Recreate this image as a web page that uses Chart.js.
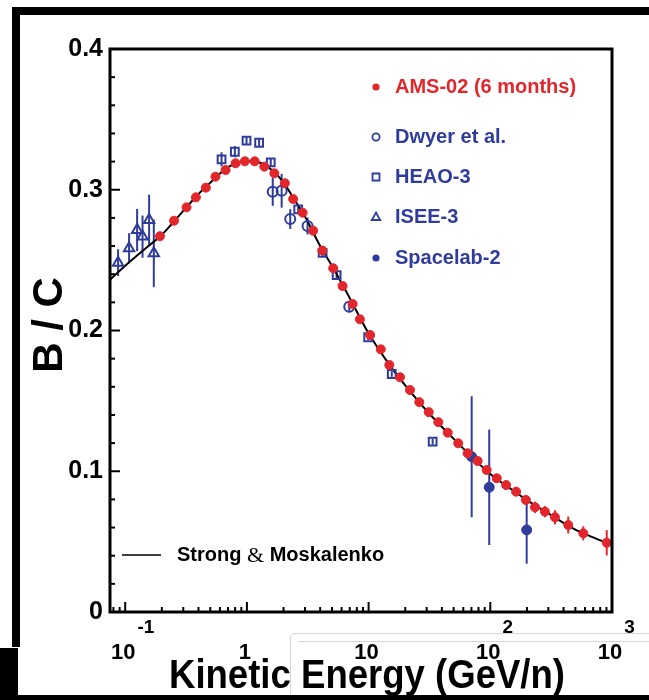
<!DOCTYPE html>
<html lang="en">
<head>
<meta charset="UTF-8">
<title>B/C ratio vs kinetic energy</title>
<script src="https://cdn.jsdelivr.net/npm/chart.js@4.4.0/dist/chart.umd.min.js"></script>
<style>
  body { margin: 0; background: #fff; }
  #chart { display: block; }
</style>
</head>
<body>
<canvas id="chart" width="649" height="700"></canvas>
<script>
// AMS-02 (6 months)
const amsEnergy = [0.193, 0.252, 0.319, 0.381, 0.46, 0.552, 0.668, 0.807, 0.962, 1.16,
  1.39, 1.68, 2.05, 2.40, 2.87, 3.50, 4.17, 5.12, 6.11, 7.39,
  8.48, 10.3, 12.6, 14.8, 18.1, 21.9, 26.1, 31.2, 37.4, 44.7,
  54.5, 65.1, 78.7, 93.3, 113, 135, 163, 196, 233, 281,
  340, 437, 581, 905];
const amsRatio = [0.267, 0.278, 0.2875, 0.2946, 0.3015, 0.3093, 0.314, 0.3188, 0.3202, 0.3202,
  0.3164, 0.3117, 0.3046, 0.2934, 0.2837, 0.2709, 0.2568, 0.2442, 0.2316, 0.2188,
  0.208, 0.1968, 0.1866, 0.1755, 0.1668, 0.1577, 0.1491, 0.142, 0.1349, 0.1274,
  0.1199, 0.1128, 0.1073, 0.1009, 0.095, 0.0902, 0.0855, 0.0796, 0.0744, 0.0713,
  0.0673, 0.0618, 0.0559, 0.0492];
const amsError = [0.001, 0.001, 0.001, 0.001, 0.001, 0.001, 0.001, 0.001, 0.001, 0.001,
  0.001, 0.001, 0.001, 0.001, 0.001, 0.001, 0.001, 0.001, 0.001, 0.001,
  0.001, 0.001, 0.001, 0.001, 0.001, 0.001, 0.001, 0.001, 0.001, 0.001,
  0.001, 0.002, 0.002, 0.002, 0.002, 0.002, 0.003, 0.003, 0.004, 0.004,
  0.005, 0.006, 0.005, 0.009];

// Dwyer et al.
const dwyerEnergy = [1.63, 1.93, 2.27, 3.15, 6.93];
const dwyerRatio = [0.2986, 0.2993, 0.2792, 0.2742, 0.2169];
const dwyerError = [0.010, 0.012, 0.007, 0.006, 0.004];

// HEAO-3
const heaoEnergy = [0.619, 0.796, 0.993, 1.26, 1.57, 2.64, 4.19, 5.46, 9.92, 15.5, 33.6];
const heaoRatio = [0.3216, 0.327, 0.3349, 0.3334, 0.3195, 0.2861, 0.2551, 0.2394, 0.1952, 0.1691, 0.121];
const heaoError = [0.005, 0.004, 0.003, 0.003, 0.003, 0.003, 0.003, 0.003, 0.002, 0.002, 0.002];

// ISEE-3
const iseeEnergy = [0.0874, 0.1076, 0.1253, 0.1388, 0.1572, 0.1718];
const iseeRatio = [0.2482, 0.2584, 0.2714, 0.2667, 0.2785, 0.2548];
const iseeError = [0.0095, 0.0107, 0.015, 0.015, 0.018, 0.024];

// Spacelab-2
const spacelabEnergy = [70.3, 98.0, 199];
const spacelabRatio = [0.1103, 0.0886, 0.0583];
const spacelabError = [0.043, 0.041, 0.024];

// Strong & Moskalenko model curve
const modelEnergy = [0.075, 0.1, 0.15, 0.2, 0.3, 0.4, 0.5, 0.7, 1.0, 1.3, 1.7, 2.0, 2.5, 3, 4, 5, 7, 10,
  15, 20, 30, 50, 70, 100, 150, 200, 300, 500, 700, 1000];
const modelRatio = [0.236, 0.246, 0.259, 0.268, 0.285, 0.297, 0.305, 0.316, 0.3205, 0.319, 0.312, 0.305,
  0.292, 0.281, 0.26, 0.246, 0.223, 0.198, 0.175, 0.161, 0.143, 0.123, 0.1105, 0.098, 0.087, 0.0795,
  0.07, 0.0585, 0.053, 0.0475];

const yTicks = [0, 0.1, 0.2, 0.3, 0.4];
const yTickLabels = ['0', '0.1', '0.2', '0.3', '0.4'];
const xTicks = [0.1, 1, 10, 100, 1000];
const xTickBase = ['10', '1', '10', '10', '10'];
const xTickExp = ['-1', '', '', '2', '3'];

const red = '#e2262c';
const blue = '#2f3c9c';
const bold = (px) => 'bold ' + px + 'px "Liberation Sans", Arial, sans-serif';

function pts(xs, ys) {
  return xs.map((x, i) => ({ x: x, y: ys[i] }));
}

const plotDecor = {
  id: 'plotDecor',
  beforeDraw(chart) {
    const c = chart.ctx;
    c.save();
    c.fillStyle = '#fff';
    c.fillRect(0, 0, chart.width, chart.height);
    // dark border of the scanned figure
    c.fillStyle = '#000';
    c.fillRect(12, 7, chart.width - 12, 8);
    c.fillRect(12, 7, 8, 640);
    c.fillRect(0, 648, 18, 52);
    c.fillRect(0, 695, chart.width, 5);
    // faint overlay box at the lower right
    c.strokeStyle = '#d6d6d6';
    c.lineWidth = 1;
    c.beginPath();
    c.moveTo(290.5, 695);
    c.lineTo(290.5, 638);
    c.quadraticCurveTo(290.5, 633.5, 295, 633.5);
    c.lineTo(chart.width, 633.5);
    c.moveTo(298, 641.5);
    c.lineTo(chart.width, 641.5);
    c.stroke();
    c.restore();
  },
  beforeDatasetsDraw(chart) {
    const c = chart.ctx, xs = chart.scales.x, ys = chart.scales.y;
    c.save();
    c.lineWidth = 2;
    chart.data.datasets.forEach(ds => {
      if (!ds.errors) return;
      c.strokeStyle = ds.borderColor;
      ds.data.forEach((p, i) => {
        const px = xs.getPixelForValue(p.x);
        c.beginPath();
        c.moveTo(px, ys.getPixelForValue(p.y - ds.errors[i]));
        c.lineTo(px, ys.getPixelForValue(p.y + ds.errors[i]));
        c.stroke();
      });
    });
    c.restore();
  },
  afterDraw(chart) {
    const c = chart.ctx, xs = chart.scales.x, ys = chart.scales.y;
    const a = chart.chartArea;
    c.save();
    // plot frame
    c.strokeStyle = '#000';
    c.lineWidth = 3;
    c.strokeRect(a.left, a.top, a.right - a.left, a.bottom - a.top);

    // y ticks (inward), minor every 0.02
    c.lineWidth = 2;
    for (let k = 0; k <= 20; k++) {
      const py = ys.getPixelForValue(k * 0.02);
      const len = k % 5 === 0 ? 10 : 5;
      c.beginPath();
      c.moveTo(a.left, py);
      c.lineTo(a.left + len, py);
      c.stroke();
    }
    // x ticks (inward), log decades
    for (let d = -2; d <= 3; d++) {
      for (let m = 1; m <= 9; m++) {
        const v = m * Math.pow(10, d);
        if (v < xs.min || v > xs.max) continue;
        const px = xs.getPixelForValue(v);
        const len = m === 1 ? 10 : 5;
        c.beginPath();
        c.moveTo(px, a.bottom);
        c.lineTo(px, a.bottom - len);
        c.stroke();
      }
    }

    // y tick labels
    c.fillStyle = '#000';
    c.font = bold(25);
    c.textAlign = 'right';
    c.textBaseline = 'middle';
    yTicks.forEach((v, i) => c.fillText(yTickLabels[i], a.left - 7, ys.getPixelForValue(v)));

    // x tick labels with exponents
    xTicks.forEach((v, i) => {
      const px = xs.getPixelForValue(v);
      c.font = bold(22);
      c.textAlign = 'center';
      c.textBaseline = 'alphabetic';
      c.fillText(xTickBase[i], px - 2, 659);
      if (xTickExp[i]) {
        const w = c.measureText(xTickBase[i]).width;
        c.font = bold(19);
        c.textAlign = 'left';
        c.fillText(xTickExp[i], px - 2 + w / 2 + 2, 633);
      }
    });

    // axis titles
    c.font = bold(40);
    c.textAlign = 'center';
    c.textBaseline = 'alphabetic';
    const title = 'Kinetic Energy (GeV/n)';
    const tw = c.measureText(title).width;
    c.save();
    c.translate(367, 688);
    c.scale(396 / tw, 1);
    c.fillText(title, 0, 0);
    c.restore();

    c.save();
    c.translate(62, 325);
    c.rotate(-Math.PI / 2);
    c.font = bold(42);
    c.textAlign = 'center';
    c.textBaseline = 'alphabetic';
    c.fillText('B / C', 0, 0);
    c.restore();

    // legend
    const rows = [
      { label: 'AMS-02 (6 months)', color: red, y: 87, shape: 'dot' },
      { label: 'Dwyer et al.', color: blue, y: 137, shape: 'circle' },
      { label: 'HEAO-3', color: blue, y: 177, shape: 'square' },
      { label: 'ISEE-3', color: blue, y: 217, shape: 'triangle' },
      { label: 'Spacelab-2', color: blue, y: 258, shape: 'dot' }
    ];
    rows.forEach(r => {
      const mx = 376;
      c.fillStyle = r.color;
      c.strokeStyle = r.color;
      c.lineWidth = 1.8;
      c.beginPath();
      if (r.shape === 'dot') {
        c.arc(mx, r.y, 3.6, 0, Math.PI * 2);
        c.fill();
      } else if (r.shape === 'circle') {
        c.arc(mx, r.y, 3.6, 0, Math.PI * 2);
        c.stroke();
      } else if (r.shape === 'square') {
        c.rect(mx - 3.5, r.y - 3.5, 7, 7);
        c.stroke();
      } else {
        c.moveTo(mx, r.y - 4.5);
        c.lineTo(mx + 4.2, r.y + 3);
        c.lineTo(mx - 4.2, r.y + 3);
        c.closePath();
        c.stroke();
      }
      c.font = bold(20);
      c.textAlign = 'left';
      c.textBaseline = 'middle';
      c.fillText(r.label, 395, r.y);
    });

    // model legend
    c.strokeStyle = '#000';
    c.lineWidth = 1.5;
    c.beginPath();
    c.moveTo(122, 555);
    c.lineTo(161, 555);
    c.stroke();
    c.fillStyle = '#000';
    c.textAlign = 'left';
    c.textBaseline = 'middle';
    let tx = 177;
    c.font = bold(20);
    c.fillText('Strong ', tx, 555);
    tx += c.measureText('Strong ').width;
    c.font = '22px "Liberation Serif", "Times New Roman", serif';
    c.fillText('&', tx, 556);
    tx += c.measureText('&').width;
    c.font = bold(20);
    c.fillText(' Moskalenko', tx, 555);
    c.restore();
  }
};

new Chart(document.getElementById('chart'), {
  type: 'scatter',
  data: {
    datasets: [
      {
        label: 'AMS-02 (6 months)',
        data: pts(amsEnergy, amsRatio),
        errors: amsError,
        pointStyle: 'circle',
        pointRadius: 4.5,
        backgroundColor: red,
        borderColor: red,
        borderWidth: 1,
        order: 1
      },
      {
        label: 'Dwyer et al.',
        data: pts(dwyerEnergy, dwyerRatio),
        errors: dwyerError,
        pointStyle: 'circle',
        pointRadius: 5,
        backgroundColor: 'rgba(255,255,255,0)',
        borderColor: blue,
        borderWidth: 2,
        order: 2
      },
      {
        label: 'HEAO-3',
        data: pts(heaoEnergy, heaoRatio),
        errors: heaoError,
        pointStyle: 'rect',
        pointRadius: 5.5,
        backgroundColor: 'rgba(255,255,255,0)',
        borderColor: blue,
        borderWidth: 2,
        order: 2
      },
      {
        label: 'ISEE-3',
        data: pts(iseeEnergy, iseeRatio),
        errors: iseeError,
        pointStyle: 'triangle',
        pointRadius: 6,
        backgroundColor: 'rgba(255,255,255,0)',
        borderColor: blue,
        borderWidth: 2,
        order: 2
      },
      {
        label: 'Spacelab-2',
        data: pts(spacelabEnergy, spacelabRatio),
        errors: spacelabError,
        pointStyle: 'circle',
        pointRadius: 5,
        backgroundColor: blue,
        borderColor: blue,
        borderWidth: 1,
        order: 2
      },
      {
        label: 'Strong & Moskalenko',
        data: pts(modelEnergy, modelRatio),
        showLine: true,
        cubicInterpolationMode: 'monotone',
        pointRadius: 0,
        borderColor: '#000',
        borderWidth: 2,
        order: 10
      }
    ]
  },
  options: {
    responsive: false,
    animation: false,
    events: [],
    layout: { padding: { left: 110, top: 49, right: 37, bottom: 88 } },
    plugins: { legend: { display: false }, tooltip: { enabled: false } },
    scales: {
      x: { type: 'logarithmic', min: 0.075, max: 1000, display: false },
      y: { type: 'linear', min: 0, max: 0.4, display: false }
    }
  },
  plugins: [plotDecor]
});
</script>
</body>
</html>
